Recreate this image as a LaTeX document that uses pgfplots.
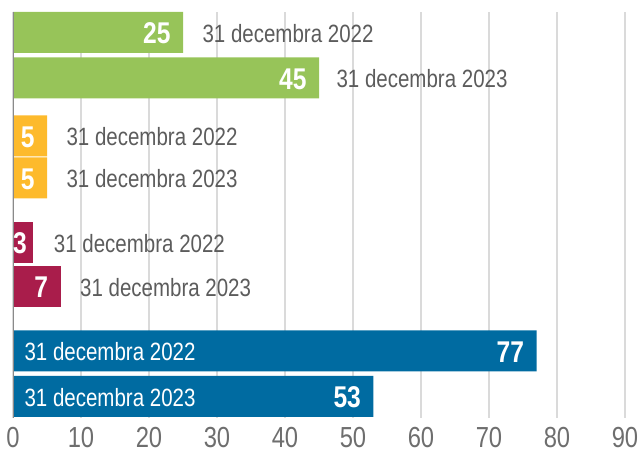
\documentclass[border=0pt]{standalone}
\usepackage{fontspec}
\setmainfont{Liberation Sans}[FakeStretch=0.82]
\usepackage{pgfplots}
\pgfplotsset{compat=1.18}

\definecolor{cgreen}{HTML}{97C459}
\definecolor{cyellow}{HTML}{FDBA2C}
\definecolor{ccrimson}{HTML}{A91D4B}
\definecolor{cblue}{HTML}{006BA1}
\definecolor{tickgray}{HTML}{6E6E6E}
\definecolor{labelgray}{HTML}{5C5C5C}
\definecolor{gridgray}{HTML}{DADADA}
\definecolor{axisgray}{HTML}{8A8A8A}

\newcommand{\datefont}{\fontsize{25}{25}\selectfont}
\newcommand{\valfont}{\bfseries\fontsize{30}{30}\selectfont}

\begin{document}
\begin{tikzpicture}[x=1pt,y=1pt]
\useasboundingbox (0,0) rectangle (642,454);
\begin{axis}[
    at={(13pt,36pt)}, anchor=south west,
    scale only axis, width=612pt, height=406pt,
    xmin=0, xmax=90, ymin=-418, ymax=-12,
    xtick={0,10,...,90}, ytick=\empty,
    xmajorgrids, grid style={draw=gridgray, line width=1.3pt},
    axis line style={draw=none},
    major tick length=0pt,
    clip=false,
    /pgf/number format/assume math mode=true,
    xticklabel style={font=\fontsize{29}{29}\selectfont, text=tickgray,
        inner sep=0pt, text depth=0pt, yshift=-9pt},
    xbar, bar width=41, bar shift=0pt,
    point meta=x,
    nodes near coords,
    every node near coord/.style={anchor=east, xshift=-9pt, yshift=-1pt, text=white, font=\valfont},
]
\addplot[fill=cgreen, draw=none] coordinates {(25,-32.5) (45,-78)};
\addplot[fill=cyellow, draw=none] coordinates {(5,-136) (5,-178)};
\addplot[fill=ccrimson, draw=none,
    every node near coord/.append style={xshift=6pt}] coordinates {(3,-242.5)};
\addplot[fill=ccrimson, draw=none] coordinates {(7,-286.5)};
\addplot[fill=cblue, draw=none] coordinates {(77,-351) (53,-396.5)};

% date labels
\node[anchor=west, text=labelgray, font=\datefont, xshift=16pt, yshift=-1pt] at (axis cs:25,-32.5) {31 decembra 2022};
\node[anchor=west, text=labelgray, font=\datefont, xshift=14pt, yshift=-1pt] at (axis cs:45,-78) {31 decembra 2023};
\node[anchor=west, text=labelgray, font=\datefont, xshift=16pt, yshift=-1pt] at (axis cs:5,-136) {31 decembra 2022};
\node[anchor=west, text=labelgray, font=\datefont, xshift=16pt, yshift=-1pt] at (axis cs:5,-178) {31 decembra 2023};
\node[anchor=west, text=labelgray, font=\datefont, xshift=17pt, yshift=-1pt] at (axis cs:3,-242.5) {31 decembra 2022};
\node[anchor=west, text=labelgray, font=\datefont, xshift=16pt, yshift=-1pt] at (axis cs:7,-286.5) {31 decembra 2023};
\node[anchor=west, text=white, font=\datefont, xshift=8pt, yshift=-1pt] at (axis cs:0,-351) {31 decembra 2022};
\node[anchor=west, text=white, font=\datefont, xshift=8pt, yshift=-1pt] at (axis cs:0,-396.5) {31 decembra 2023};

\draw[axisgray, line width=1pt] (axis cs:0,-418) -- (axis cs:0,-12);
\end{axis}
\end{tikzpicture}
\end{document}
